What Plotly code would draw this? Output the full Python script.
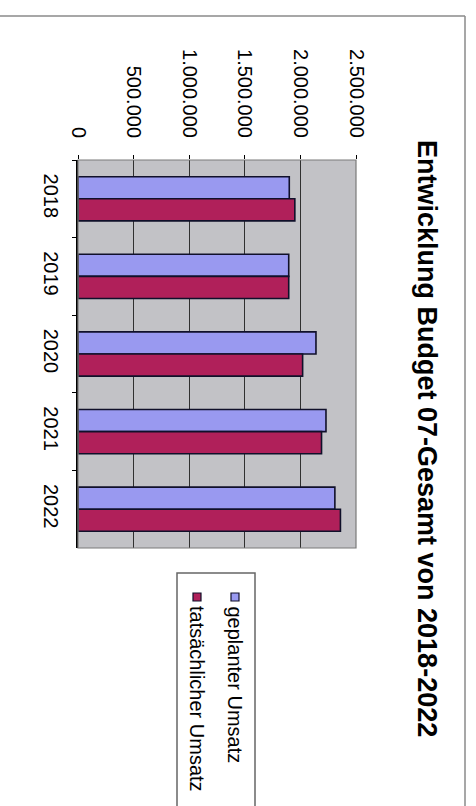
import plotly.graph_objects as go

years = ["2018", "2019", "2020", "2021", "2022"]
geplant = [1900000, 1895000, 2140000, 2230000, 2310000]
tatsaechlich = [1950000, 1895000, 2020000, 2190000, 2360000]
series_names = ["geplanter Umsatz", "tatsächlicher Umsatz"]
tick_values = [0, 500000, 1000000, 1500000, 2000000, 2500000]
title_text = "Entwicklung Budget 07-Gesamt von 2018-2022"

W, H = 476, 806
def px(x):
    return x / W
def py(y):
    return (H - y) / H

BLUE = "#9999F0"
RED = "#B0205A"
FONT = "Liberation Sans, Arial, sans-serif"

fig = go.Figure()
fig.add_trace(go.Bar(y=years, x=geplant, orientation="h", name=series_names[0],
                     marker=dict(color=BLUE, line=dict(color="#10102a", width=1.6))))
fig.add_trace(go.Bar(y=years, x=tatsaechlich, orientation="h", name=series_names[1],
                     marker=dict(color=RED, line=dict(color="#10102a", width=1.6))))

shapes = [
    # outer chart frame (top and right)
    dict(type="line", xref="paper", yref="paper", x0=0, x1=px(465), y0=py(16), y1=py(16),
         line=dict(color="#8a8a8a", width=1.5)),
    dict(type="line", xref="paper", yref="paper", x0=px(465), x1=px(465), y0=py(16), y1=0,
         line=dict(color="#8a8a8a", width=1.5)),
    # plot area border
    dict(type="rect", xref="paper", yref="paper", x0=px(78), x1=px(356), y0=py(548), y1=py(160),
         line=dict(color="#7a7a7a", width=1.2)),
    # legend box
    dict(type="rect", xref="paper", yref="paper", x0=px(177), x1=px(255), y0=-0.01, y1=py(573),
         line=dict(color="#666666", width=1.5), fillcolor="white", layer="below"),
    # legend swatches
    dict(type="rect", xref="paper", yref="paper", x0=px(231), x1=px(239), y0=py(601), y1=py(593),
         line=dict(color="#10102a", width=1.2), fillcolor=BLUE),
    dict(type="rect", xref="paper", yref="paper", x0=px(193), x1=px(201), y0=py(601), y1=py(593),
         line=dict(color="#10102a", width=1.2), fillcolor=RED),
]

annotations = [
    dict(text="<b>" + title_text + "</b>", xref="paper", yref="paper", x=px(427), y=py(438),
         xanchor="center", yanchor="middle", textangle=90, showarrow=False,
         font=dict(family=FONT, size=27, color="black")),
    dict(text=series_names[0], xref="paper", yref="paper", x=px(235), y=py(604),
         xanchor="center", yanchor="top", textangle=90, showarrow=False,
         font=dict(family=FONT, size=20, color="black")),
    dict(text=series_names[1], xref="paper", yref="paper", x=px(197), y=py(604),
         xanchor="center", yanchor="top", textangle=90, showarrow=False,
         font=dict(family=FONT, size=20, color="black")),
]

fig.update_layout(
    width=W, height=H,
    margin=dict(l=0, r=0, t=0, b=0, autoexpand=False),
    paper_bgcolor="white",
    plot_bgcolor="#C2C2C6",
    separators=",.",
    barmode="group",
    bargap=0.43,
    bargroupgap=0,
    showlegend=False,
    font=dict(family=FONT, size=20, color="black"),
    shapes=shapes,
    annotations=annotations,
    xaxis=dict(
        domain=[px(78), px(356)],
        range=[0, 2500000],
        side="top",
        automargin=False,
        tickvals=tick_values,
        tickformat=",d",
        tickangle=90,
        ticks="outside", ticklen=4, tickcolor="black",
        showgrid=True, gridcolor="#303030", gridwidth=1,
        zeroline=False, showline=False,
        ticklabelstandoff=10,
        tickfont=dict(family=FONT, size=20, color="black"),
    ),
    yaxis=dict(
        domain=[py(548), py(160)],
        type="category",
        autorange="reversed",
        automargin=False,
        tickangle=90,
        ticks="outside", ticklen=4, tickcolor="black",
        tickson="boundaries",
        showgrid=False,
        showline=True, linecolor="black", linewidth=1.5,
        ticklabelstandoff=8,
        tickfont=dict(family=FONT, size=20, color="black"),
    ),
)

fig.write_html("out.html", config={"displayModeBar": False},
               post_script="document.body.style.margin='0px';")
